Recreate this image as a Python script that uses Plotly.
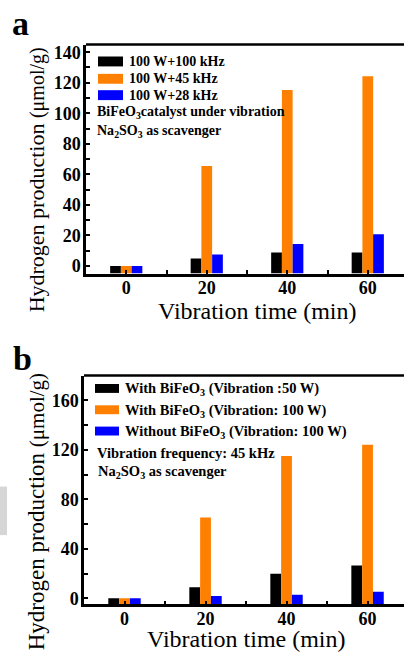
import numpy as np
import plotly.graph_objects as go

W, H = 404, 659
SERIF = "Liberation Serif"

# ---------------- data ----------------
times = [0, 20, 40, 60]
x_tickvals = [-10, 0, 10, 20, 30, 40, 50, 60]
x_ticktext = ["", "0", "", "20", "", "40", "", "60"]

a_names = ["100 W+100 kHz", "100 W+45 kHz", "100 W+28 kHz"]
a_100kHz = [0, 4.8, 8.7, 8.7]
a_45kHz = [0, 65.5, 115.2, 124.3]
a_28kHz = [0, 7.4, 14.3, 20.8]
a_tickvals = [0, 10, 20, 30, 40, 50, 60, 70, 80, 90, 100, 110, 120, 130, 140]
a_ticktext = ["0", "", "20", "", "40", "", "60", "", "80", "", "100", "", "120", "", "140"]

b_names = ["With BiFeO<sub>3</sub> (Vibration :50 W)",
           "With BiFeO<sub>3</sub> (Vibration: 100 W)",
           "Without BiFeO<sub>3</sub> (Vibration: 100 W)"]
b_50W = [0, 9.0, 19.9, 26.5]
b_100W = [0, 65.3, 115.0, 124.0]
b_noCat = [0, 1.9, 2.9, 5.3]
b_tickvals = [0, 20, 40, 60, 80, 100, 120, 140, 160, 180]
b_ticktext = ["0", "", "40", "", "80", "", "120", "", "160", ""]

a_notes = ["BiFeO<sub>3</sub>catalyst under vibration", "Na<sub>2</sub>SO<sub>3</sub> as scavenger"]
b_notes = ["Vibration frequency: 45 kHz", "Na<sub>2</sub>SO<sub>3</sub> as scavenger"]

colors = ["#000000", "#FF8000", "#0000FF"]
A_YMIN, A_YMAX = -5, 145
B_YMIN, B_YMAX = -5, 180
XMIN, XMAX = -10, 69


def px(x):
    return x / W


def py(y):
    return 1 - y / H


fig = go.Figure()

for vals, name, c in zip([a_100kHz, a_45kHz, a_28kHz], a_names, colors):
    v = np.array(vals, dtype=float)
    fig.add_trace(go.Bar(x=times, y=v - A_YMIN, base=A_YMIN, name=name,
                         marker=dict(color=c, line=dict(width=0)),
                         customdata=v, hovertemplate="%{x} min: %{customdata}<extra></extra>",
                         xaxis="x", yaxis="y", showlegend=False))

for vals, name, c in zip([b_50W, b_100W, b_noCat], b_names, colors):
    v = np.array(vals, dtype=float)
    fig.add_trace(go.Bar(x=times, y=v - B_YMIN, base=B_YMIN, name=name,
                         marker=dict(color=c, line=dict(width=0)),
                         customdata=v, hovertemplate="%{x} min: %{customdata}<extra></extra>",
                         xaxis="x2", yaxis="y2", showlegend=False))

tickfont = dict(family=SERIF, size=18, color="black", weight="bold")

xcommon = dict(range=[XMIN, XMAX], tickmode="array", tickvals=x_tickvals, ticktext=x_ticktext,
               ticks="inside", ticklen=4, tickwidth=2, tickcolor="black", showline=True,
               linecolor="black", linewidth=2.5, showgrid=False, zeroline=False, tickfont=tickfont,
               ticklabelstandoff=-4)
ycommon = dict(tickmode="array", ticks="inside", ticklen=4, tickwidth=2, tickcolor="black", showline=True,
               linecolor="black", linewidth=2.5, showgrid=False, zeroline=False, tickfont=tickfont,
               ticklabelstandoff=-1)

fig.update_layout(
    width=W, height=H,
    margin=dict(l=0, r=0, t=0, b=0),
    paper_bgcolor="white", plot_bgcolor="white",
    barmode="group", bargap=0.6, bargroupgap=0,
    showlegend=False,
    xaxis=dict(domain=[px(86), 1], anchor="y", **xcommon),
    yaxis=dict(domain=[py(274), py(43)], anchor="x", range=[A_YMIN, A_YMAX],
               tickvals=a_tickvals, ticktext=a_ticktext, **ycommon),
    xaxis2=dict(domain=[px(84), 1], anchor="y2", **xcommon),
    yaxis2=dict(domain=[py(608), py(377)], anchor="x2", range=[B_YMIN, B_YMAX],
                tickvals=b_tickvals, ticktext=b_ticktext, **ycommon),
)

shapes = []
# top frame lines (the right side of the frame is cropped off in the reference)
for yt, xl in [(43, 86), (377, 84)]:
    shapes.append(dict(type="line", xref="paper", yref="paper", x0=px(xl), x1=1,
                       y0=py(yt), y1=py(yt), line=dict(color="black", width=2.5)))

annotations = []
legfont = dict(family=SERIF, size=14, color="black", weight="bold")

# legend panel a
for i, (name, c) in enumerate(zip(a_names, colors)):
    yc = [60, 77.5, 94][i]
    shapes.append(dict(type="rect", xref="paper", yref="paper", x0=px(98), x1=px(123),
                       y0=py(yc + 5), y1=py(yc - 5), fillcolor=c, line=dict(width=0)))
    annotations.append(dict(text=name, xref="paper", yref="paper", x=px(127), y=py(yc),
                            xanchor="left", yanchor="middle", showarrow=False, font=legfont))
for note, yc in zip(a_notes, [112, 131]):
    annotations.append(dict(text=note, xref="paper", yref="paper", x=px(95), y=py(yc),
                            xanchor="left", yanchor="middle", showarrow=False, font=legfont))

# legend panel b
legfont_b = dict(family=SERIF, size=14.5, color="black", weight="bold")
for i, (name, c) in enumerate(zip(b_names, colors)):
    yc = [390, 411.5, 433][i]
    shapes.append(dict(type="rect", xref="paper", yref="paper", x0=px(95), x1=px(119),
                       y0=py(yc + 4.5), y1=py(yc - 4.5), fillcolor=c, line=dict(width=0)))
    annotations.append(dict(text=name, xref="paper", yref="paper", x=px(123), y=py(yc + 1),
                            xanchor="left", yanchor="middle", showarrow=False, font=legfont_b))
for note, yc, xl in zip(b_notes, [455, 474], [95, 96]):
    annotations.append(dict(text=note, xref="paper", yref="paper", x=px(xl), y=py(yc),
                            xanchor="left", yanchor="middle", showarrow=False, font=legfont_b))

# gray artifact at left of panel b
shapes.append(dict(type="rect", xref="paper", yref="paper", x0=0, x1=px(7), y0=py(538), y1=py(489),
                   fillcolor="#d6d6d6", line=dict(width=0), layer="below"))

# panel labels
annotations.append(dict(text="a", xref="paper", yref="paper", x=px(20), y=py(22),
                        xanchor="center", yanchor="middle", showarrow=False,
                        font=dict(family=SERIF, size=34, color="black", weight="bold")))
annotations.append(dict(text="b", xref="paper", yref="paper", x=px(22), y=py(360),
                        xanchor="center", yanchor="middle", showarrow=False,
                        font=dict(family=SERIF, size=34, color="black", weight="bold")))

# axis titles
xt = "Vibration time (min)"
annotations.append(dict(text=xt, xref="paper", yref="paper", x=px(257), y=py(312),
                        xanchor="center", yanchor="middle", showarrow=False,
                        font=dict(family=SERIF, size=24, color="black")))
annotations.append(dict(text=xt, xref="paper", yref="paper", x=px(246), y=py(643),
                        xanchor="center", yanchor="middle", showarrow=False,
                        font=dict(family=SERIF, size=24, color="black")))
yt_a = 'Hydrogen production <span style="font-size:20px">(μmol/g)</span>'
yt_b = 'Hydrogen production <span style="font-size:21px">(μmol/g)</span>'
annotations.append(dict(text=yt_a, xref="paper", yref="paper", x=px(36), y=py(180), textangle=-90,
                        xanchor="center", yanchor="middle", showarrow=False,
                        font=dict(family=SERIF, size=22, color="black")))
annotations.append(dict(text=yt_b, xref="paper", yref="paper", x=px(36), y=py(515), textangle=-90,
                        xanchor="center", yanchor="middle", showarrow=False,
                        font=dict(family=SERIF, size=23, color="black")))

fig.update_layout(shapes=shapes, annotations=annotations)

fig.write_html("out.html", config={"displayModeBar": False},
               post_script="document.body.style.margin='0';document.body.style.overflow='hidden';"
                           "document.documentElement.style.overflow='hidden';")
